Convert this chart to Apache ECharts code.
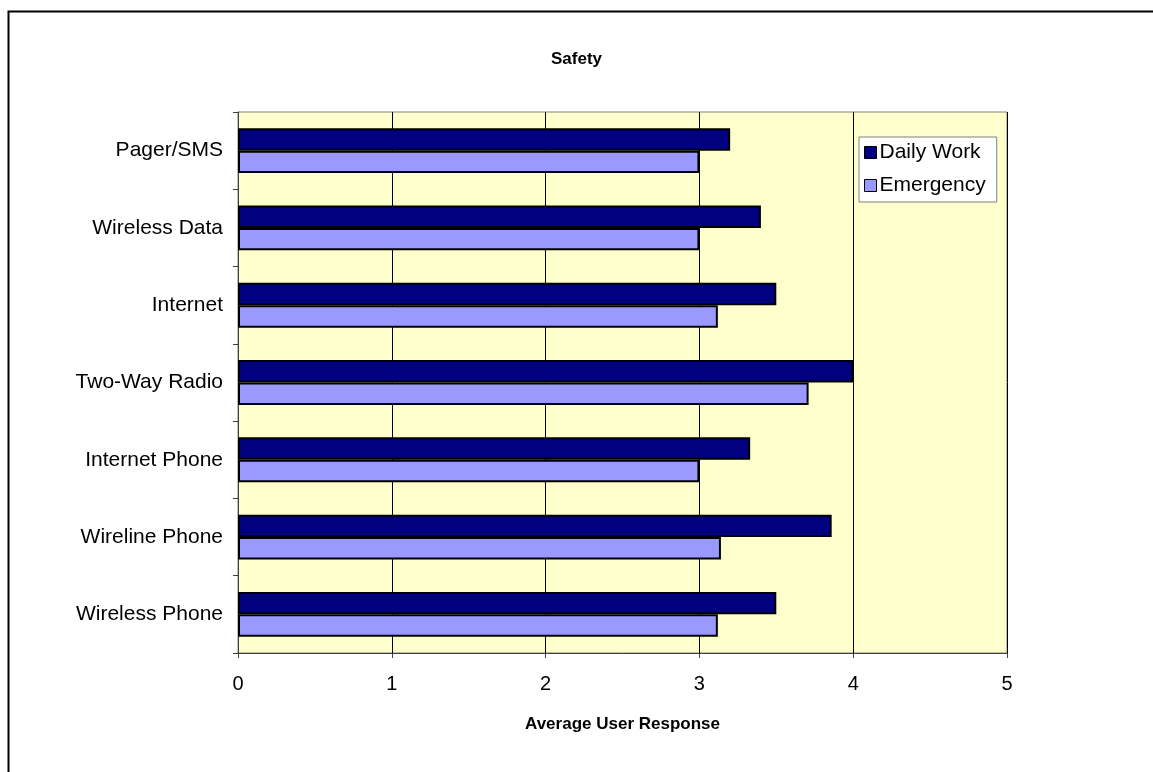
<!DOCTYPE html>
<html>
<head>
<meta charset="utf-8">
<title>Safety</title>
<script src="https://cdn.jsdelivr.net/npm/echarts@6/dist/echarts.min.js"></script>
<style>
  html, body { margin: 0; padding: 0; background: #ffffff; }
  #chart { width: 1153px; height: 772px; }
</style>
</head>
<body>
<div id="chart"></div>
<script>
// Categories listed top to bottom
const categories = ['Pager/SMS', 'Wireless Data', 'Internet', 'Two-Way Radio', 'Internet Phone', 'Wireline Phone', 'Wireless Phone'];
const dailyWork = [3.2, 3.4, 3.5, 4.0, 3.33, 3.86, 3.5];
const emergency = [3.0, 3.0, 3.12, 3.71, 3.0, 3.14, 3.12];
const xTicks = [0, 1, 2, 3, 4, 5];

const FONT = '"Liberation Sans", Arial, sans-serif';

const chart = echarts.init(document.getElementById('chart'), null, { renderer: 'canvas' });

chart.setOption({
  animation: false,
  backgroundColor: '#ffffff',
  title: {
    text: 'Safety',
    left: 'center',
    top: 46,
    textStyle: { fontFamily: FONT, fontSize: 17, fontWeight: 'bold', color: '#000000' }
  },
  legend: {
    orient: 'vertical',
    left: 859,
    top: 137,
    padding: [5, 11, 6, 5],
    itemGap: 12,
    itemWidth: 12,
    itemHeight: 12,
    backgroundColor: '#ffffff',
    borderColor: '#808080',
    borderWidth: 1,
    textStyle: { fontFamily: FONT, fontSize: 21, color: '#000000', padding: [0, 0, 0, -2] },
    data: [
      { name: 'Daily Work', icon: 'rect', itemStyle: { color: '#000080', borderColor: '#000000', borderWidth: 1 } },
      { name: 'Emergency', icon: 'rect', itemStyle: { color: '#9999FF', borderColor: '#000000', borderWidth: 1 } }
    ]
  },
  grid: {
    left: 238,
    right: 146,
    top: 112,
    bottom: 119,
    show: true,
    backgroundColor: '#FFFFCC',
    borderColor: '#808080',
    borderWidth: 1
  },
  xAxis: {
    type: 'value',
    min: xTicks[0],
    max: xTicks[xTicks.length - 1],
    interval: 1,
    name: 'Average User Response',
    nameLocation: 'middle',
    nameGap: 63,
    nameTextStyle: { fontFamily: FONT, fontSize: 17, fontWeight: 'bold', color: '#000000' },
    axisLine: { show: true, lineStyle: { color: '#404040', width: 1 } },
    axisTick: { show: true, length: 5, lineStyle: { color: '#404040' } },
    axisLabel: { fontFamily: FONT, fontSize: 20, color: '#000000', margin: 21 },
    splitLine: { show: true, lineStyle: { color: '#000000', width: 1 } }
  },
  yAxis: {
    type: 'category',
    inverse: true,
    data: categories,
    axisLine: { show: true, lineStyle: { color: '#404040', width: 1 } },
    axisTick: { show: true, length: 5, lineStyle: { color: '#404040' } },
    axisLabel: { fontFamily: FONT, fontSize: 21, color: '#000000', margin: 15 },
    splitLine: { show: false }
  },
  series: [
    {
      name: 'Daily Work',
      type: 'bar',
      data: dailyWork,
      barGap: '0%',
      barCategoryGap: '42%',
      itemStyle: { color: '#000080', borderColor: '#000000', borderWidth: 2 }
    },
    {
      name: 'Emergency',
      type: 'bar',
      data: emergency,
      barGap: '0%',
      barCategoryGap: '42%',
      itemStyle: { color: '#9999FF', borderColor: '#000000', borderWidth: 2 }
    }
  ],
  graphic: [
    {
      type: 'rect',
      left: 6,
      top: 9,
      shape: { width: 1160, height: 800 },
      style: { fill: 'none', stroke: '#000000', lineWidth: 2 },
      silent: true,
      z: 100
    }
  ]
});
</script>
</body>
</html>
